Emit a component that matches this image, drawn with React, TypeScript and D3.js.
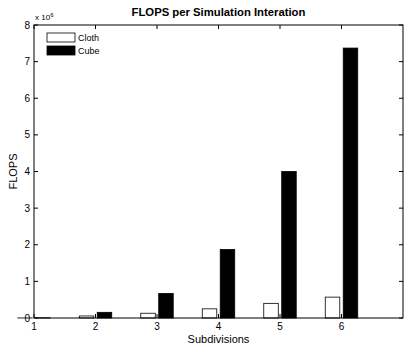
import React, { useEffect, useRef } from "react";
import * as d3 from "d3";

const subdivisions = [1, 2, 3, 4, 5, 6];
const clothFlops = [0.002, 0.055, 0.13, 0.25, 0.4, 0.57];
const cubeFlops = [0.005, 0.155, 0.67, 1.87, 4.0, 7.37];
const seriesNames = ["Cloth", "Cube"];
const yTicks = [0, 1, 2, 3, 4, 5, 6, 7, 8];

export default function App() {
  const ref = useRef<SVGSVGElement>(null);

  useEffect(() => {
    const svg = d3.select(ref.current);
    svg.selectAll("*").remove();

    const width = 409;
    const height = 360;
    const margin = { top: 25, right: 6, bottom: 42, left: 34 };
    const font = "Arial, 'Liberation Sans', sans-serif";

    const x = d3.scaleLinear().domain([1, 7]).range([margin.left, width - margin.right]);
    const y = d3.scaleLinear().domain([0, 8]).range([height - margin.bottom, margin.top]);

    const barW = 0.236;
    const offset = 0.146;

    svg.append("rect")
      .attr("width", width)
      .attr("height", height)
      .attr("fill", "#fff");

    const g = svg.append("g");

    // bars
    const series = [
      { name: seriesNames[0], values: clothFlops, fill: "#fff", dx: -offset },
      { name: seriesNames[1], values: cubeFlops, fill: "#000", dx: offset },
    ];
    series.forEach(s => {
      g.selectAll(null)
        .data(s.values)
        .enter()
        .append("rect")
        .attr("x", (d, i) => x(subdivisions[i] + s.dx - barW / 2))
        .attr("width", x(1 + barW) - x(1))
        .attr("y", d => y(d))
        .attr("height", d => y(0) - y(d))
        .attr("fill", s.fill)
        .attr("stroke", "#000")
        .attr("stroke-width", 0.8);
    });

    // box
    const x0 = x(1), x1 = x(7), y0 = y(0), y1 = y(8);
    g.append("rect")
      .attr("x", x0)
      .attr("y", y1)
      .attr("width", x1 - x0)
      .attr("height", y0 - y1)
      .attr("fill", "none")
      .attr("stroke", "#000")
      .attr("stroke-width", 1);

    const tl = 4;
    // x ticks
    subdivisions.forEach(v => {
      g.append("line").attr("x1", x(v)).attr("x2", x(v)).attr("y1", y0).attr("y2", y0 - tl).attr("stroke", "#000");
      g.append("line").attr("x1", x(v)).attr("x2", x(v)).attr("y1", y1).attr("y2", y1 + tl).attr("stroke", "#000");
      g.append("text")
        .attr("x", x(v))
        .attr("y", y0 + 12)
        .attr("text-anchor", "middle")
        .attr("font-family", font)
        .attr("font-size", 10)
        .text(v);
    });

    // y ticks
    yTicks.forEach(v => {
      g.append("line").attr("x1", x0).attr("x2", x0 + tl).attr("y1", y(v)).attr("y2", y(v)).attr("stroke", "#000");
      g.append("line").attr("x1", x1).attr("x2", x1 - tl).attr("y1", y(v)).attr("y2", y(v)).attr("stroke", "#000");
      g.append("text")
        .attr("x", x0 - 4)
        .attr("y", y(v) + 3.5)
        .attr("text-anchor", "end")
        .attr("font-family", font)
        .attr("font-size", 10)
        .text(v);
    });

    // exponent
    const ex = g.append("text")
      .attr("x", x0 + 1)
      .attr("y", y1 - 5)
      .attr("font-family", font)
      .attr("font-size", 8);
    ex.append("tspan").text("x 10");
    ex.append("tspan").attr("font-size", 6).attr("dy", -3).text("6");

    // title
    g.append("text")
      .attr("x", (x0 + x1) / 2)
      .attr("y", 16)
      .attr("text-anchor", "middle")
      .attr("font-family", font)
      .attr("font-size", 11.3)
      .attr("font-weight", "bold")
      .text("FLOPS per Simulation Interation");

    // axis labels
    g.append("text")
      .attr("x", (x0 + x1) / 2)
      .attr("y", y0 + 25)
      .attr("text-anchor", "middle")
      .attr("font-family", font)
      .attr("font-size", 11)
      .text("Subdivisions");

    g.append("text")
      .attr("transform", `translate(17,${(y0 + y1) / 2}) rotate(-90)`)
      .attr("text-anchor", "middle")
      .attr("font-family", font)
      .attr("font-size", 11)
      .text("FLOPS");

    // legend
    series.forEach((s, i) => {
      const ly = 33 + i * 13;
      g.append("rect")
        .attr("x", 47)
        .attr("y", ly)
        .attr("width", 28)
        .attr("height", 9)
        .attr("fill", s.fill)
        .attr("stroke", "#000")
        .attr("stroke-width", 0.8);
      g.append("text")
        .attr("x", 78)
        .attr("y", ly + 8)
        .attr("font-family", font)
        .attr("font-size", 9)
        .text(s.name);
    });
  }, []);

  return (
    <svg
      ref={ref}
      width={409}
      height={360}
      style={{ position: "absolute", left: 0, top: 0 }}
    />
  );
}
